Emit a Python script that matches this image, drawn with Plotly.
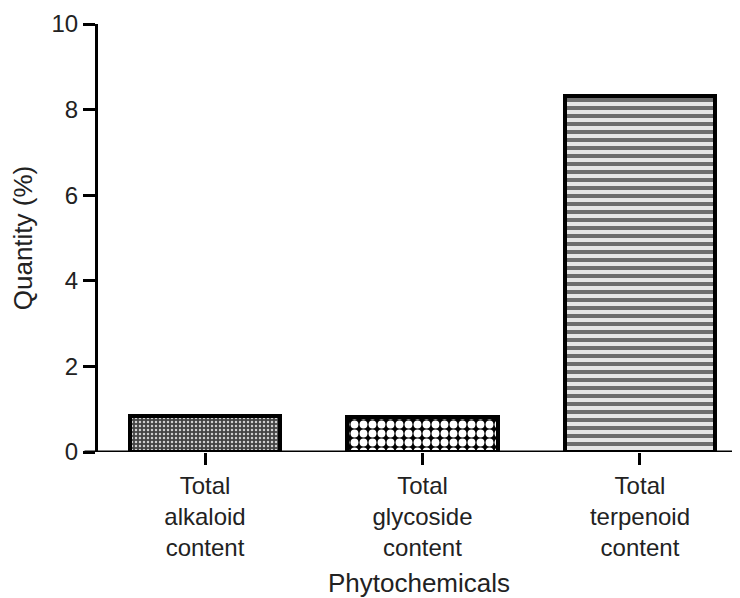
import plotly.graph_objects as go

categories = ["Total<br>alkaloid<br>content", "Total<br>glycoside<br>content", "Total<br>terpenoid<br>content"]
values = [0.85, 0.82, 8.32]
y_ticks = [0, 2, 4, 6, 8, 10]

patterns = [
    dict(shape=".", size=4, solidity=0.3, fgcolor="#d0d0d0", bgcolor="#444444", fillmode="replace"),
    dict(shape=".", size=9, solidity=0.6, fgcolor="#ffffff", bgcolor="#000000", fillmode="replace"),
    dict(shape="-", size=8, solidity=0.5, fgcolor="#6e6e6e", bgcolor="#e6e6e6", fillmode="replace"),
]

fig = go.Figure()
for i, (c, v) in enumerate(zip(categories, values)):
    fig.add_trace(go.Bar(
        x=[i], y=[v], width=0.69,
        marker=dict(color="#ffffff", line=dict(color="#000000", width=4), pattern=patterns[i]),
        showlegend=False,
    ))

font_family = "Liberation Sans, Arial, sans-serif"
fig.update_layout(
    width=732, height=590,
    margin=dict(l=90, r=0, t=16, b=146),
    plot_bgcolor="white", paper_bgcolor="white",
    font=dict(family=font_family, color="#222222"),
    bargap=0,
    xaxis=dict(
        range=[-0.492, 2.46],
        tickmode="array", tickvals=[0, 1, 2], ticktext=categories,
        ticks="outside", ticklen=12, tickwidth=2.5, tickcolor="#000000",
        showline=False, showgrid=False, zeroline=False,
        tickfont=dict(size=24),
        title=dict(text="Phytochemicals", font=dict(size=26), standoff=14),
        automargin=False,
    ),
    yaxis=dict(
        range=[0, 10],
        tickmode="array", tickvals=y_ticks,
        ticks="outside", ticklen=12, tickwidth=3, tickcolor="#000000",
        showline=True, linewidth=3, linecolor="#000000",
        showgrid=False, zeroline=False,
        tickfont=dict(size=24),
        title=dict(text="Quantity (%)", font=dict(size=26), standoff=14),
        automargin=False,
    ),
    shapes=[dict(type="line", xref="paper", yref="y", x0=-0.021, x1=1.0, y0=0, y1=0,
                 line=dict(color="#000000", width=3))],
)

fig.write_html("out.html")
